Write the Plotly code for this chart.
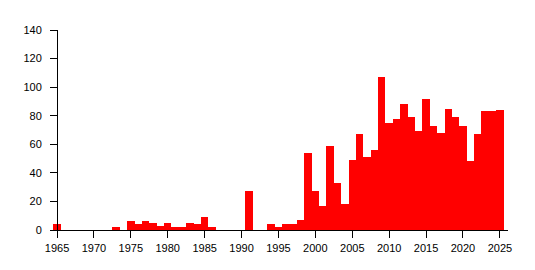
import plotly.graph_objects as go

years = list(range(1965, 2026))
counts = [4, 0, 0, 0, 0, 0, 0, 0, 2, 0,
          6, 4, 6, 5, 3, 5, 2, 2, 5, 4,
          9, 2, 0, 0, 0, 0, 27, 0, 0, 4,
          2, 4, 4, 7, 54, 27, 17, 59, 33, 18,
          49, 67, 51, 56, 107, 75, 78, 88, 79, 69,
          92, 73, 68, 85, 79, 73, 48, 67, 83, 83,
          84]
x_ticks = list(range(1965, 2026, 5))
y_ticks = list(range(0, 141, 20))

xmin, xmax = 1964.05, 2026.1
ypos = (years[0] - xmin) / (xmax - xmin)

fig = go.Figure(go.Bar(x=years, y=counts, marker=dict(color="#ff0000", line=dict(width=0)),
                       width=1.0))
font = dict(family="Liberation Sans, DejaVu Sans, sans-serif", size=11, color="#000000")
fig.update_layout(
    width=535, height=270,
    margin=dict(l=50, r=27, t=30, b=40),
    paper_bgcolor="white", plot_bgcolor="white",
    bargap=0, showlegend=False, font=font,
    xaxis=dict(range=[xmin, xmax], tickvals=x_ticks, ticktext=[str(v) for v in x_ticks],
               showline=True, linecolor="black", linewidth=1,
               ticks="outside", ticklen=7, tickcolor="black", tickwidth=1,
               ticklabelstandoff=1,
               showgrid=False, zeroline=False, tickfont=font),
    yaxis=dict(range=[0, 140], tickvals=y_ticks, anchor="free", position=ypos,
               showline=True, linecolor="black", linewidth=1,
               ticks="outside", ticklen=7, tickcolor="black", tickwidth=1,
               ticklabelstandoff=6,
               showgrid=False, zeroline=False, tickfont=font),
)
fig.write_html("out.html")
